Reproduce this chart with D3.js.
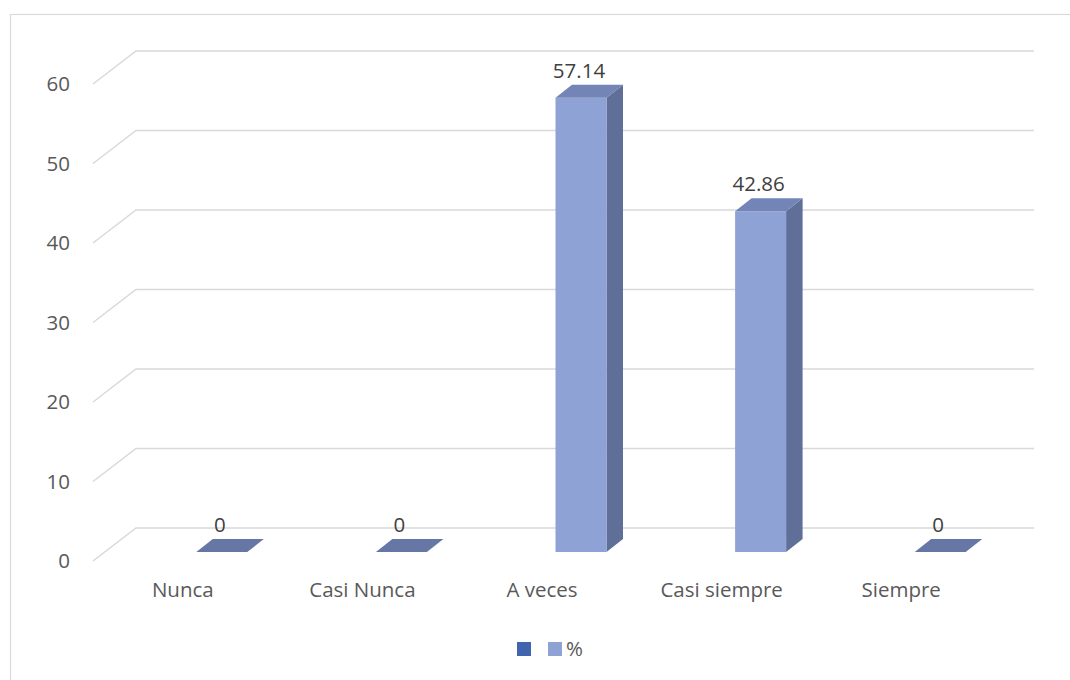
<!DOCTYPE html>
<html>
<head>
<meta charset="utf-8">
<script src="https://cdn.jsdelivr.net/npm/d3@7"></script>
<style>
  html, body { margin: 0; padding: 0; background: #fff; }
  svg text { font-family: "Open Sans", "Noto Sans", sans-serif; }
</style>
</head>
<body>
<svg id="chart" width="1070" height="680"></svg>
<script>
// Survey answers and their share (%)
const categories = ["Nunca", "Casi Nunca", "A veces", "Casi siempre", "Siempre"];
const percentValues = [0, 0, 57.14, 42.86, 0];
const yTicks = [0, 10, 20, 30, 40, 50, 60];
const legendLabels = ["", "%"];

const svg = d3.select("#chart");
const fontSize = "20.5px";

// Chart area frame
svg.append("rect")
  .attr("x", 10.5).attr("y", 14.5)
  .attr("width", 1100).attr("height", 700)
  .attr("fill", "#fff").attr("stroke", "#d9d9d9").attr("stroke-width", 1.2);

// Oblique projection: back wall vs. front edge of the floor
const depthX = 43, depthY = 33;
const front = { left: 93, right: 991 };

const yBack = d3.scaleLinear().domain([0, 60]).range([528, 51]);
const yFront = v => yBack(v) + depthY;

const x = d3.scaleBand().domain(categories).range([front.left, front.right]);

// Column geometry (front face), set slightly back into the depth
const barShift = 39, barW = 51, barDX = 16.5, barDY = -13;
const yBar = d3.scaleLinear().domain([0, 60]).range([552, 75]);

// Gridlines on the back wall plus the side-wall slants
const grid = svg.append("g");
yTicks.forEach(t => {
  grid.append("path")
    .attr("d", `M${front.left},${yFront(t)}L${front.left + depthX},${yBack(t)}H${front.right + depthX}`)
    .attr("fill", "none").attr("stroke", "#d9d9d9").attr("stroke-width", 1.5);
});

// Value axis labels, aligned to the front ends of the gridlines
const yAxis = d3.axisLeft(d3.scaleLinear().domain([0, 60]).range([yFront(0), yFront(60)]))
  .tickValues(yTicks).tickSize(0).tickPadding(0);
const yAxisG = svg.append("g").attr("transform", "translate(70,0)").call(yAxis);
yAxisG.select(".domain").remove();
yAxisG.selectAll("text")
  .attr("fill", "#595959").style("font-size", fontSize)
  .style("font-family", "'Open Sans', sans-serif");

// Category labels below the front edge
const xAxis = d3.axisBottom(x).tickSize(0).tickPadding(0);
const xAxisG = svg.append("g").attr("transform", "translate(0,582)").call(xAxis);
xAxisG.select(".domain").remove();
xAxisG.selectAll("text")
  .attr("fill", "#595959").style("font-size", fontSize)
  .style("font-family", "'Open Sans', sans-serif");

// 3D columns
const bars = svg.append("g");
categories.forEach((c, i) => {
  const v = percentValues[i];
  const cx = x(c) + x.bandwidth() / 2 + barShift;
  const x0 = cx - barW / 2, x1 = cx + barW / 2;
  const yb = yBar(0), yt = yBar(v);
  const g = bars.append("g");
  if (v > 0) {
    // side face
    g.append("path")
      .attr("d", `M${x1},${yb}L${x1 + barDX},${yb + barDY}L${x1 + barDX},${yt + barDY}L${x1},${yt}Z`)
      .attr("fill", "#5f6f97");
    // front face
    g.append("rect")
      .attr("x", x0).attr("y", yt)
      .attr("width", barW).attr("height", yb - yt)
      .attr("fill", "#8fa2d6");
  }
  // top face
  g.append("path")
    .attr("d", `M${x0},${yt}L${x0 + barDX},${yt + barDY}L${x1 + barDX},${yt + barDY}L${x1},${yt}Z`)
    .attr("fill", v > 0 ? "#7385b7" : "#6677a6");

  // data label
  svg.append("text")
    .attr("x", cx - 2).attr("y", yt + barDY - 7)
    .attr("text-anchor", "middle")
    .attr("fill", "#404040").style("font-size", fontSize)
    .text(v);
});

// Legend
const legend = svg.append("g");
const legendColors = ["#4065ae", "#8fa2d6"];
legendLabels.forEach((lab, i) => {
  legend.append("rect")
    .attr("x", 517 + i * 31).attr("y", 642)
    .attr("width", 14).attr("height", 14)
    .attr("fill", legendColors[i]);
  if (lab) {
    legend.append("text")
      .attr("x", 566 + (i - 1) * 31).attr("y", 649).attr("dy", "0.35em")
      .attr("fill", "#595959").style("font-size", fontSize)
      .text(lab);
  }
});
</script>
</body>
</html>
